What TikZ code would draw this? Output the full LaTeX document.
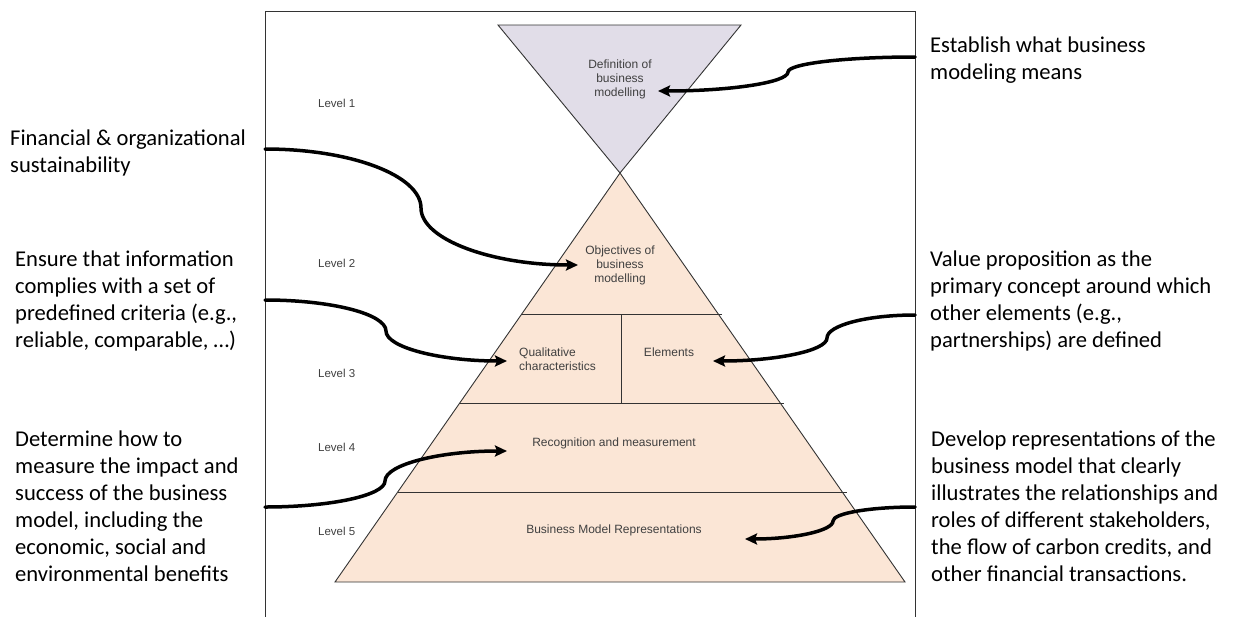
\documentclass[tikz,border=0pt]{standalone}
\usepackage{fontspec}
\setmainfont{Carlito}
\newfontfamily\labelfont{Liberation Sans}
\usetikzlibrary{arrows.meta}

\definecolor{topfill}{HTML}{E1DDE8}
\definecolor{pyrfill}{HTML}{FBE6D6}
\definecolor{edgegray}{HTML}{333333}
\definecolor{labelgray}{HTML}{404040}

\tikzset{
  callout/.style={anchor=north west, inner sep=0pt, align=left,
    font=\fontsize{22.6}{27}\selectfont, text=black},
  levellabel/.style={anchor=west, inner sep=0pt,
    font=\labelfont\fontsize{11.5}{14}\selectfont, text=labelgray},
  tierlabel/.style={inner sep=0pt, align=center,
    font=\labelfont\fontsize{12}{14}\selectfont, text=labelgray},
  tierleft/.style={tierlabel, align=left},
  link/.style={line width=3.5pt, line cap=round,
    -{Stealth[length=12pt,width=11pt,inset=2pt]}},
  outline/.style={draw=edgegray, line width=0.9pt},
}

\begin{document}
\begin{tikzpicture}[x=1pt,y=-1pt]
\useasboundingbox (0,0) rectangle (1234,616);

% frame around the pyramid
\draw[outline] (265,640) -- (265,11) -- (915,11) -- (915,640);

% level 1: inverted triangle
\filldraw[outline, fill=topfill] (498,25) -- (741,25) -- (620,173) -- cycle;

% levels 2-5: pyramid with its tiers
\filldraw[outline, fill=pyrfill] (620,173) -- (905,582) -- (335,582) -- cycle;
\draw[outline] (522,314) -- (722,314);
\draw[outline] (460,403) -- (784,403);
\draw[outline] (398,492) -- (847,492);
\draw[outline] (621,314) -- (621,403);

% tier labels
\node[tierlabel] (def) at (620,79) {Definition of\\business\\modelling};
\node[tierlabel] (obj) at (620,265) {Objectives of\\business\\modelling};
\node[tierleft, anchor=west] (qual) at (519,359) {Qualitative\\characteristics};
\node[tierlabel] (elem) at (669,352) {Elements};
\node[tierlabel] (recog) at (614,443) {Recognition and measurement};
\node[tierlabel] (repr) at (614,530) {Business Model Representations};

% level labels
\node[levellabel] (lv1) at (318,103) {Level 1};
\node[levellabel] (lv2) at (318,263) {Level 2};
\node[levellabel] (lv3) at (318,373) {Level 3};
\node[levellabel] (lv4) at (318,447) {Level 4};
\node[levellabel] (lv5) at (318,531) {Level 5};

% explanations
\node[callout] (nestablish) at (930,37) {Establish what business\\modeling means};
\node[callout] (nfinancial) at (10,130) {Financial \& organizational\\sustainability};
\node[callout] (nensure) at (15,251) {Ensure that information\\complies with a set of\\predefined criteria (e.g.,\\reliable, comparable, \ldots)};
\node[callout] (nvalue) at (930,251) {Value proposition as the\\primary concept around which\\other elements (e.g.,\\partnerships) are defined};
\node[callout] (ndetermine) at (15,431) {Determine how to\\measure the impact and\\success of the business\\model, including the\\economic, social and\\environmental benefits};
\node[callout] (ndevelop) at (931,431) {Develop representations of the\\business model that clearly\\illustrates the relationships and\\roles of different stakeholders,\\the flow of carbon credits, and\\other financial transactions.};

% connector end points: start on the frame, kink, tip
\coordinate (s1) at (915,57);   \coordinate (k1) at (788,72);  \coordinate (t1) at (658,91);
\coordinate (s2) at (265,149);  \coordinate (k2) at (421,208); \coordinate (t2) at (578,265);
\coordinate (s3) at (265,300);  \coordinate (k3) at (386,331); \coordinate (t3) at (507,361);
\coordinate (s4) at (915,315);  \coordinate (k4) at (827,338); \coordinate (t4) at (713,361);
\coordinate (s5) at (265,507);  \coordinate (k5) at (385,481); \coordinate (t5) at (507,451);
\coordinate (s6) at (915,507);  \coordinate (k6) at (833,521); \coordinate (t6) at (745,539);

% connectors: two quarter-ellipse arcs meeting at a vertical kink
\draw[link] (s1) .. controls (845,57) and (788,63.7) .. (k1)
                 .. controls (788,82.5) and (729.5,91) .. (t1);
\draw[link] (s2) .. controls (351,149) and (421,175.5) .. (k2)
                 .. controls (421,239.4) and (491.6,265) .. (t2);
\draw[link] (s3) .. controls (331.5,300) and (386,314) .. (k3)
                 .. controls (386,347.5) and (440.5,361) .. (t3);
\draw[link] (s4) .. controls (866.6,315) and (827,325.4) .. (k4)
                 .. controls (827,350.7) and (775.7,361) .. (t4);
\draw[link] (s5) .. controls (331,507) and (385,495.3) .. (k5)
                 .. controls (385,464.5) and (440,451) .. (t5);
\draw[link] (s6) .. controls (869.9,507) and (833,513.3) .. (k6)
                 .. controls (833,530.9) and (793.4,539) .. (t6);
\end{tikzpicture}
\end{document}
